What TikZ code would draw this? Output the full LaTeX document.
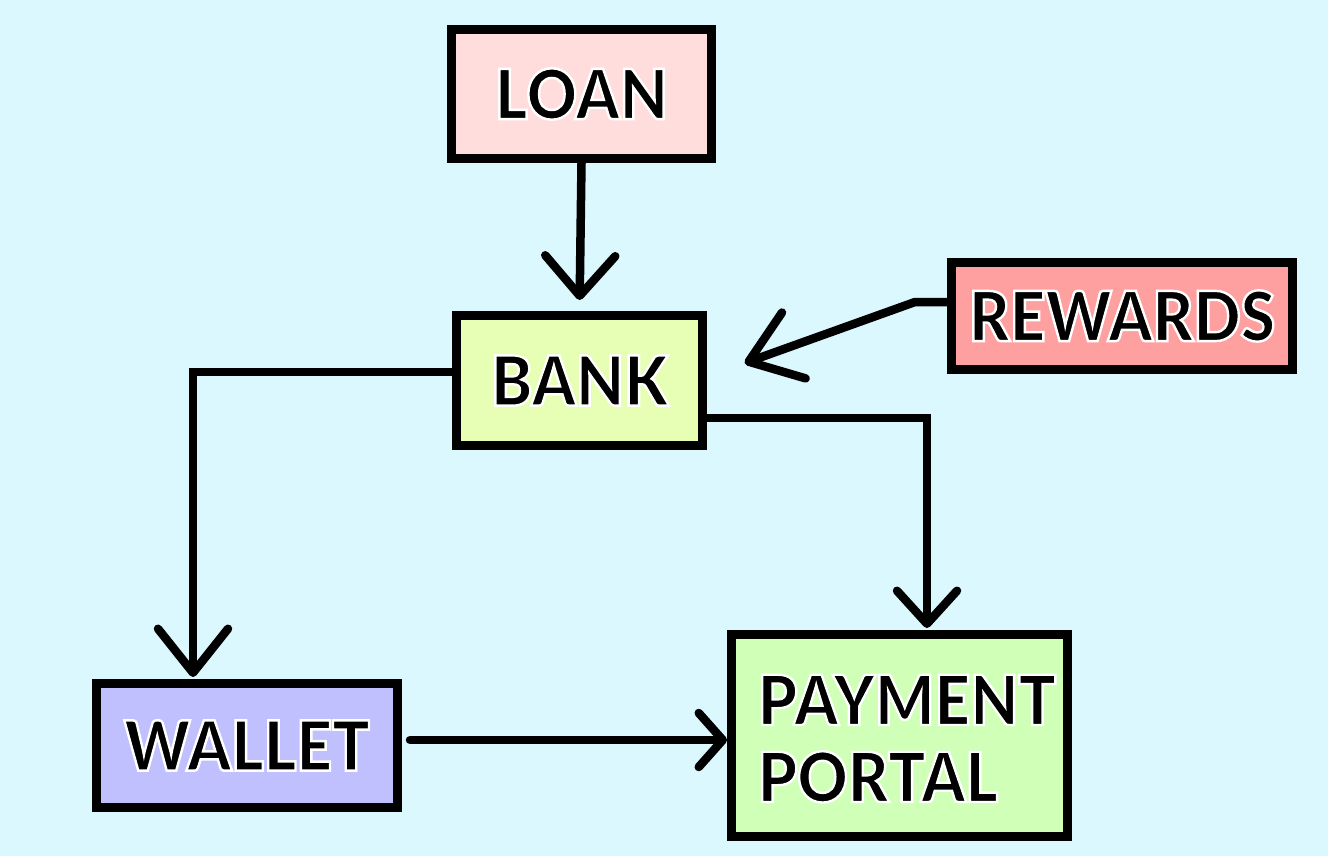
\documentclass[tikz,border=0pt]{standalone}
\usepackage{fontspec}
\setmainfont{PT Sans}
\IfFontExistsTF{Lato Black}{\newfontfamily\lblfont{Lato Black}[FakeStretch=0.9]}{\newfontfamily\lblfont{PT Sans Bold}}
\usetikzlibrary{arrows.meta}
\definecolor{bgc}{RGB}{220,248,255}
\definecolor{loanc}{RGB}{255,221,221}
\definecolor{bankc}{RGB}{230,255,180}
\definecolor{rewc}{RGB}{255,160,160}
\definecolor{walc}{RGB}{192,192,255}
\definecolor{payc}{RGB}{208,255,184}
\newcommand\halo[1]{\special{pdf:literal direct 2 Tr 2.4 w 1 1 1 RG}#1\special{pdf:literal direct 0 Tr 0 0 0 RG}}
\tikzset{
  box/.style={draw=black, line width=9pt, inner sep=0pt, font=\lblfont\fontsize{69}{80}\selectfont},
  conn/.style={draw=black, line width=8.5pt, line cap=round},
}
\begin{document}
\begin{tikzpicture}[x=1pt,y=-1pt]
\fill[bgc] (0,0) rectangle (1328,856);
\useasboundingbox (0,0) rectangle (1328,856);
\node[box, fill=loanc, minimum width=260pt, minimum height=129pt] (LOAN) at (581.5,94) {\halo{LOAN}};
\node[box, fill=bankc, minimum width=246pt, minimum height=130pt] (BANK) at (579.5,380.5) {\halo{BANK}};
\node[box, fill=rewc, minimum width=341pt, minimum height=107pt] (REW) at (1122,316) {\halo{REWARDS}};
\node[box, fill=walc, minimum width=301pt, minimum height=124pt] (WAL) at (247,745.5) {\halo{WALLET}};
\node[box, fill=payc, minimum width=336pt, minimum height=202pt] (PAY) at (899.5,735.5) {\raisebox{-12pt}[\height][\depth]{\begin{tabular}{@{\hspace{15pt}}l@{}}\halo{PAYMENT}\\[-3pt]\halo{PORTAL}\end{tabular}}};
\draw[conn, -{Straight Barb[length=40pt,width=70pt,round]}, shorten >=11pt] (LOAN.south) -- (BANK.north);
\draw[conn, -{Straight Barb[length=44pt,width=70pt,round]}, shorten >=2pt] ([yshift=8.5pt]BANK.west) -| ([xshift=-54pt]WAL.north);
\draw[conn, -{Straight Barb[length=33pt,width=60pt,round]}, shorten >=2pt] ([yshift=-37.5pt]BANK.east) -| ([xshift=27.5pt]PAY.north);
\draw[conn, -{Straight Barb[length=48pt,width=70pt,round]}, shorten >=40pt] ([yshift=14pt]REW.west) -- ++(-32,0) -- ([yshift=3.9pt]BANK.east);
\coordinate (wl) at ([yshift=5.5pt]WAL.east);
\draw[conn, -{Straight Barb[length=24pt,width=54pt,round]}] ([xshift=8pt]wl) -- (wl -| PAY.west);
\end{tikzpicture}
\end{document}
